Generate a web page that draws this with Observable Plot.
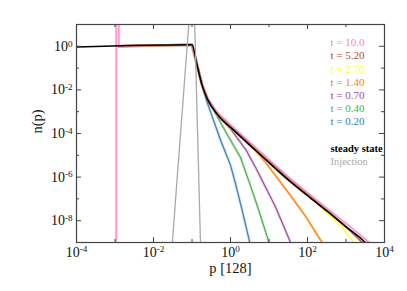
<!DOCTYPE html>
<html><head><meta charset="utf-8">
<script src="https://cdn.jsdelivr.net/npm/d3@7"></script>
<script src="https://cdn.jsdelivr.net/npm/@observablehq/plot@0.6"></script>
<style>html,body{margin:0;padding:0;background:#fff} svg text{font-family:"Liberation Serif","Times New Roman",serif !important}</style>
</head><body><div id="chart"></div>
<script>
// All series values as log10(p) and log10(n)
const steadyLogP = [-4.0, -1.0, -0.87, -0.74, -0.6, -0.35, -0.26, 0.0, 0.5, 1.0, 1.56, 2.0, 2.5, 3.0, 3.51, 3.6];
const steadyLogN = [-0.03, 0.07, -0.85, -1.77, -2.42, -3.1, -3.30, -3.72, -4.53, -5.34, -6.22, -6.85, -7.55, -8.28, -9.02, -9.2];

const injLogP = [-1.553, -0.969, -0.765];
const injLogN = [-10, 3.69, -10];

const t10LogP = [-2.97, -2.97, -2.90, -2.90, -1.0, -0.87, -0.74, -0.6, -0.35, 0.0, 0.5, 1.0, 1.56, 2.0, 2.5, 3.0, 3.64, 3.7];
const t10LogN = [-10, 2, 2, 0.0, 0.07, -0.8, -1.7, -2.36, -3.02, -3.6, -4.4, -5.2, -6.08, -6.72, -7.42, -8.12, -9.05, -9.2];

const t520LogP = [-2.90, -1.0, -0.87, -0.74, -0.6, -0.35, 0.0, 0.5, 1.0, 1.56, 2.0, 2.5, 2.9, 3.45, 3.5];
const t520LogN = [0.0, 0.07, -0.83, -1.74, -2.4, -3.07, -3.67, -4.48, -5.28, -6.16, -6.8, -7.52, -8.1, -9.05, -9.2];

const t270LogP = [-2.90, -1.0, -0.87, -0.74, -0.6, -0.35, 0.0, 0.5, 1.0, 1.56, 2.2, 2.6, 2.9, 3.2, 3.25];
const t270LogN = [0.0, 0.07, -0.85, -1.77, -2.42, -3.1, -3.72, -4.53, -5.34, -6.22, -7.13, -7.8, -8.3, -9.0, -9.2];

const t140LogP = [-2.90, -1.0, -0.87, -0.74, -0.6, -0.35, 0.0, 0.6, 0.9, 1.2, 1.56, 1.95, 2.38, 2.42];
const t140LogN = [0.0, 0.07, -0.85, -1.77, -2.42, -3.1, -3.72, -4.7, -5.3, -6.0, -6.85, -7.8, -9.0, -9.2];

const t070LogP = [-2.90, -1.0, -0.87, -0.74, -0.6, -0.35, 0.0, 0.4, 0.65, 0.85, 1.17, 1.56, 1.6];
const t070LogN = [0.0, 0.07, -0.85, -1.77, -2.42, -3.12, -3.78, -4.75, -5.55, -6.25, -7.37, -9.0, -9.3];

const t040LogP = [-2.90, -1.0, -0.87, -0.74, -0.6, -0.35, -0.1, 0.26, 0.5, 0.73, 1.0, 1.04];
const t040LogN = [0.0, 0.07, -0.85, -1.77, -2.44, -3.2, -4.0, -5.1, -6.3, -7.5, -9.0, -9.3];

const t020LogP = [-2.90, -1.0, -0.87, -0.74, -0.62, -0.48, -0.26, 0.0, 0.13, 0.3, 0.5, 0.54];
const t020LogN = [0.0, 0.07, -0.85, -1.8, -2.5, -3.2, -4.3, -5.45, -6.3, -7.5, -9.0, -9.3];

const seriesLabels = ["t = 10.0", "t = 5.20", "t = 2.70", "t = 1.40", "t = 0.70", "t = 0.40", "t = 0.20"];
const seriesColors = ["#f781bf", "#a65628", "#ffff33", "#ff7f00", "#984ea3", "#4daf4a", "#377eb8"];
const seriesLogP = [t10LogP, t520LogP, t270LogP, t140LogP, t070LogP, t040LogP, t020LogP];
const seriesLogN = [t10LogN, t520LogN, t270LogN, t140LogN, t070LogN, t040LogN, t020LogN];

const xMajor = [1e-4, 1e-2, 1e0, 1e2, 1e4];
const xMinor = [1e-3, 1e-1, 1e1, 1e3];
const yMajor = [1e0, 1e-2, 1e-4, 1e-6, 1e-8];
const yMinor = [1e-1, 1e-3, 1e-5, 1e-7];

const xLabel = "p [128]";
const yLabel = "n(p)";
const steadyLabel = "steady state";
const injLabel = "Injection";

// build tables
const toRows = (lp, ln) => lp.map((v, i) => ({p: 10 ** v, n: 10 ** ln[i]}));
const steady = toRows(steadyLogP, steadyLogN);
const inj = toRows(injLogP, injLogN);
const series = seriesLabels.map((s, k) => ({label: s, color: seriesColors[k], rows: toRows(seriesLogP[k], seriesLogN[k])}));

const W = 407, H = 291, mL = 76, mR = 23, mT = 24, mB = 49;
const iW = W - mL - mR, iH = H - mT - mB;
const axisColor = "#444";
const font = '"Liberation Serif", "Times New Roman", serif';

const supText = d => "10^" + Math.round(Math.log10(d));

const marks = [];
// time-series curves, drawn from earliest (bottom) to latest
for (let k = series.length - 1; k >= 0; k--) {
  const s = series[k];
  marks.push(Plot.line(s.rows, {x: "p", y: "n", stroke: s.color, strokeWidth: 2.6, strokeOpacity: 0.3, clip: true}));
  marks.push(Plot.line(s.rows, {x: "p", y: "n", stroke: s.color, strokeWidth: 1.1, clip: true}));
}
marks.push(Plot.line(steady, {x: "p", y: "n", stroke: "black", strokeWidth: 1.6, curve: "monotone-x", clip: true}));
marks.push(Plot.line(inj, {x: "p", y: "n", stroke: "#aaaaaa", strokeWidth: 1.3, clip: true}));

// ticks (inward, on all four sides)
marks.push(Plot.ruleX(xMajor, {x: d => d, insetTop: iH - 5, stroke: axisColor}));
marks.push(Plot.ruleX(xMajor, {x: d => d, insetBottom: iH - 5, stroke: axisColor}));
marks.push(Plot.ruleX(xMinor, {x: d => d, insetTop: iH - 3, stroke: axisColor}));
marks.push(Plot.ruleX(xMinor, {x: d => d, insetBottom: iH - 3, stroke: axisColor}));
marks.push(Plot.ruleY(yMajor, {y: d => d, insetRight: iW - 5, stroke: axisColor}));
marks.push(Plot.ruleY(yMajor, {y: d => d, insetLeft: iW - 5, stroke: axisColor}));
marks.push(Plot.ruleY(yMinor, {y: d => d, insetRight: iW - 3, stroke: axisColor}));
marks.push(Plot.ruleY(yMinor, {y: d => d, insetLeft: iW - 3, stroke: axisColor}));
marks.push(Plot.frame({stroke: axisColor, strokeWidth: 1.2}));

// tick labels
marks.push(Plot.text(xMajor, {x: d => d, text: supText, frameAnchor: "bottom", dy: 14, fontSize: 14, fontFamily: font, fill: "#111"}));
marks.push(Plot.text(yMajor, {y: d => d, text: supText, frameAnchor: "left", dx: -4, textAnchor: "end", fontSize: 14, fontFamily: font, fill: "#111"}));

// axis titles
marks.push(Plot.text([xLabel], {text: d => d, frameAnchor: "bottom", dy: 30, fontSize: 14.5, fontFamily: font, fill: "#111"}));
marks.push(Plot.text([yLabel], {text: d => d, frameAnchor: "left", dx: -39, rotate: -90, fontSize: 14.5, fontFamily: font, fill: "#111"}));

// legend inside the frame
series.forEach((s, i) => {
  marks.push(Plot.text([s.label], {text: d => d, frameAnchor: "top-left", dx: 254, dy: 14 + 13.1 * i, textAnchor: "start", fontSize: 11, fontFamily: font, fill: s.color}));
});
marks.push(Plot.text([steadyLabel], {text: d => d, frameAnchor: "top-left", dx: 254, dy: 120, textAnchor: "start", fontSize: 10.5, fontFamily: font, fontWeight: "bold", fill: "black"}));
marks.push(Plot.text([injLabel], {text: d => d, frameAnchor: "top-left", dx: 254, dy: 132.7, textAnchor: "start", fontSize: 10.5, fontFamily: font, fill: "#aaaaaa"}));

const chart = Plot.plot({
  width: W, height: H,
  marginLeft: mL, marginRight: mR, marginTop: mT, marginBottom: mB,
  x: {type: "log", domain: [1e-4, 1e4], axis: null},
  y: {type: "log", domain: [1e-9, 1e1], axis: null},
  style: {fontFamily: font, background: "white", overflow: "visible"},
  marks
});
chart.setAttribute("font-family", font);

// superscript exponents
chart.querySelectorAll("text").forEach(t => {
  const m = /^10\^(-?\d+)$/.exec(t.textContent);
  if (m) {
    t.textContent = "10";
    const ts = document.createElementNS("http://www.w3.org/2000/svg", "tspan");
    ts.setAttribute("dy", "-0.45em");
    ts.setAttribute("font-size", "0.65em");
    ts.textContent = m[1];
    t.appendChild(ts);
  }
});
document.getElementById("chart").appendChild(chart);
</script>
</body></html>
